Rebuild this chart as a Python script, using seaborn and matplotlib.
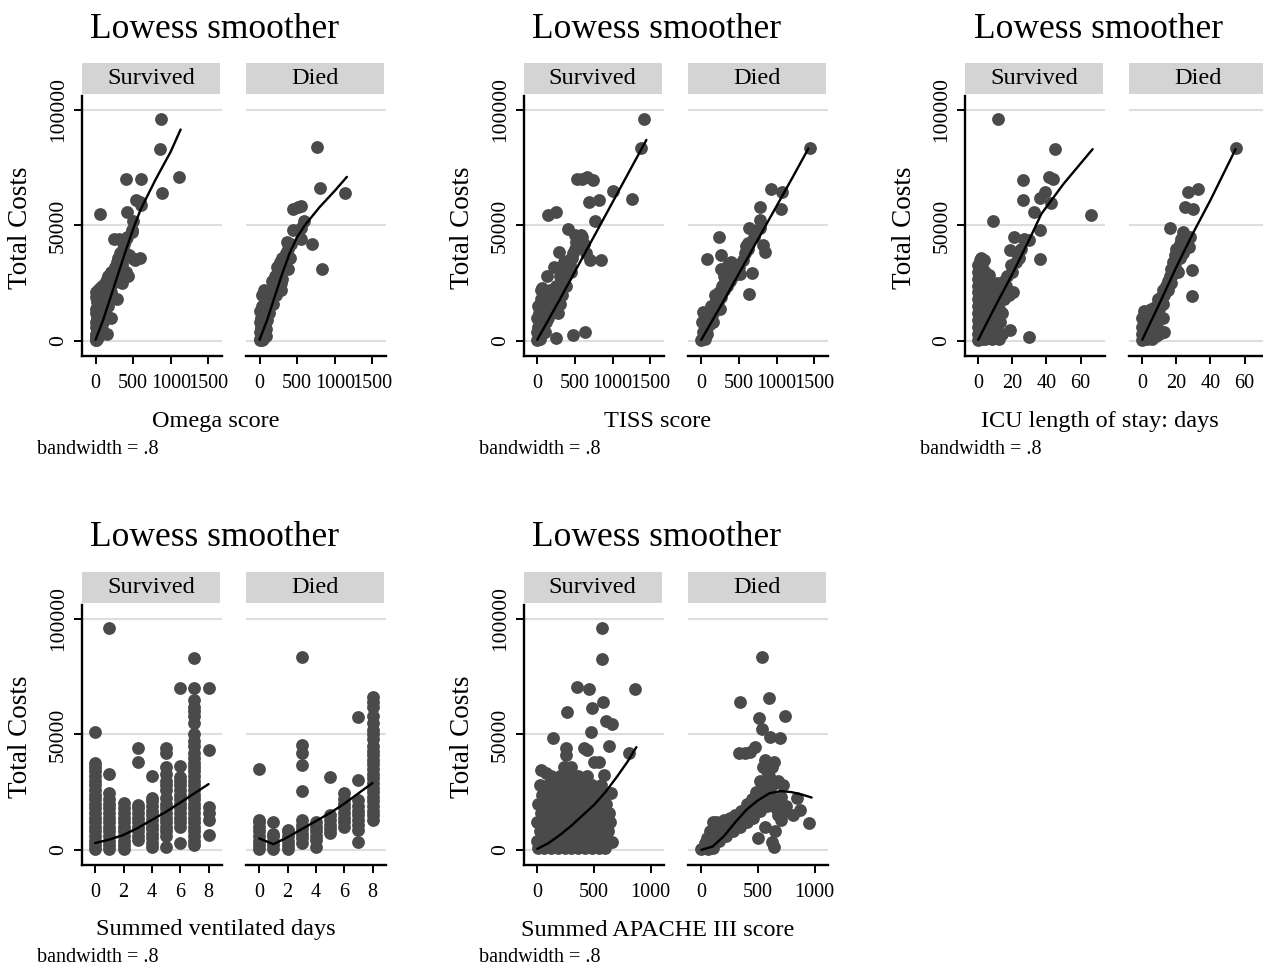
import numpy as np
import matplotlib
matplotlib.use("Agg")
import matplotlib.pyplot as plt
import seaborn as sns

# ==========================================
# DATOS (costes en miles)
# ==========================================
# Omega score
omega_surv = [(0, 0.5), (5, 1), (10, 2), (20, 1), (30, 3), (15, 5), (40, 2), (50, 4), (0, 3), (5, 6),
              (10, 8), (20, 10), (0, 12), (10, 14), (30, 7), (60, 6), (70, 9), (80, 12), (90, 5), (100, 8),
              (50, 12), (40, 15), (20, 17), (10, 19), (0, 21), (30, 22), (60, 23), (90, 24), (100, 14),
              (110, 11), (120, 16), (130, 13), (140, 18), (150, 20), (160, 15), (170, 22), (180, 19),
              (120, 25), (150, 27), (190, 24), (200, 26), (210, 21), (220, 28), (230, 25), (240, 30),
              (250, 27), (260, 32), (270, 29), (280, 34), (290, 31), (300, 36), (310, 33), (320, 38),
              (340, 36), (360, 40), (380, 42), (400, 44), (420, 45), (250, 44), (310, 44), (440, 37),
              (480, 36), (527, 35), (594, 36), (437, 28), (400, 30), (350, 33), (480, 47), (504, 52),
              (482, 48), (540, 61), (585, 60), (600, 59), (420, 56), (58, 55), (406, 70), (598, 70),
              (888, 64), (1112, 71), (857, 83), (875, 96), (2, 0.5), (25, 4), (70, 3), (35, 10), (80, 17),
              (110, 20), (130, 22), (200, 30), (170, 28), (147, 3), (200, 10), (280, 18), (350, 25)]
omega_died = [(0, 0.5), (10, 1), (20, 2), (30, 0.5), (50, 1), (5, 4), (15, 6), (40, 4), (60, 3), (80, 2),
              (0, 8), (20, 10), (40, 8), (70, 7), (90, 5), (100, 9), (10, 13), (30, 15), (60, 12), (80, 14),
              (120, 12), (140, 15), (160, 18), (120, 19), (90, 20), (30, 20), (60, 22), (140, 22), (180, 20),
              (200, 24), (170, 26), (210, 28), (240, 26), (260, 30), (280, 22), (300, 27), (230, 32),
              (270, 34), (300, 36), (320, 32), (350, 38), (380, 40), (400, 36), (420, 42), (360, 43),
              (290, 25), (445, 48), (511, 58), (556, 58.5), (587, 52), (551, 49), (556, 44), (445, 57),
              (693, 42), (825, 31), (763, 84), (803, 66), (1138, 64), (380, 31), (180, 16), (220, 20)]
omega_lw_surv_x = [0, 100, 200, 300, 400, 500, 600, 800, 1000, 1130]
omega_lw_surv_y = [0.5, 9, 19, 29, 39, 48.5, 57, 70, 82, 91.5]
omega_lw_died_x = [0, 100, 200, 300, 400, 500, 600, 800, 1000, 1160]
omega_lw_died_y = [0.5, 9, 19, 29, 38, 45, 50, 58, 65, 71]

# TISS score
tiss_surv = [(0, 0.5), (10, 1), (20, 2), (40, 1), (60, 3), (0, 4), (10, 6), (30, 8), (0, 10), (20, 12),
             (40, 14), (10, 15), (60, 10), (80, 6), (100, 4), (120, 8), (100, 12), (140, 10), (160, 12),
             (80, 15), (50, 18), (150, 16), (180, 14), (200, 16), (200, 20), (220, 13), (240, 18),
             (260, 20), (170, 22), (250, 24), (280, 22), (300, 21), (320, 25), (300, 28), (340, 26),
             (360, 30), (380, 28), (400, 32), (350, 34), (420, 35), (440, 33), (460, 36), (480, 38),
             (500, 40), (520, 43), (540, 41), (560, 44), (580, 46), (600, 45), (650, 38), (700, 35),
             (620, 42), (530, 44), (500, 46), (44, 22), (60, 23), (132, 28), (221, 32), (295, 38.6),
             (406, 48.3), (141, 54.5), (243, 55.8), (529, 70), (596, 70.3), (662, 71), (741, 69.6),
             (692, 60), (820, 61), (772, 52), (1006, 64.8), (1257, 61.5), (1380, 83.3), (1416, 96),
             (847, 35), (243, 1.2), (477, 2.6), (631, 3.7), (300, 16), (280, 12), (330, 20), (380, 24),
             (450, 30)]
tiss_died = [(0, 0.5), (10, 1), (30, 2), (50, 1), (20, 4), (60, 5), (80, 3), (100, 7), (10, 8), (40, 9),
             (80, 10), (120, 9), (150, 12), (100, 13), (22, 12.7), (60, 12), (130, 15), (170, 14),
             (200, 18), (180, 20), (220, 17), (240, 21), (260, 19), (280, 24), (300, 22), (320, 26),
             (340, 24), (360, 28), (380, 26), (400, 30), (420, 28), (440, 31), (460, 33), (480, 30),
             (500, 32), (520, 29), (360, 33), (400, 34), (300, 28), (80, 35.3), (236, 44.8), (258, 37.2),
             (267, 31), (550, 35), (580, 38), (600, 41), (623, 42.2), (623, 40), (636, 48.7), (668, 29.2),
             (636, 20.3), (783, 58), (783, 52.3), (783, 48.7), (823, 41.5), (845, 38.6), (926, 65.7),
             (1068, 64.3), (1059, 57.1), (1442, 83.6), (700, 45), (160, 8), (250, 14)]
tiss_lw_surv_x = [0, 300, 600, 900, 1200, 1450]
tiss_lw_surv_y = [0.5, 18, 36, 54, 72, 87]
tiss_lw_died_x = [0, 300, 600, 900, 1200, 1424]
tiss_lw_died_y = [0.5, 17.5, 35, 52.5, 70, 83.3]

# ICU length of stay
icu_surv = [(0, 0.5), (0, 3), (0, 6), (0, 9), (0, 12), (0, 15), (0, 18), (0, 21), (0, 24), (0, 27),
            (0, 30), (0, 33), (1, 35), (1.4, 36), (3.3, 35), (1, 2), (1, 8), (1, 14), (1, 20), (1, 26),
            (2, 1), (2, 5), (2, 11), (2, 17), (2, 23), (3, 3), (3, 9), (3, 15), (3, 21), (3, 27), (4, 1),
            (4, 7), (4, 13), (4, 19), (5, 3), (5, 10), (5, 17), (5, 24), (6, 2), (6, 8), (6, 15),
            (6.2, 28.5), (7, 5), (7, 12), (7, 20), (8, 1), (8, 9), (8, 16), (9, 4), (9, 13), (9, 22),
            (10, 2), (10, 10), (10, 18), (11, 6), (11, 25), (12, 1), (12, 14), (13, 8), (13, 22), (14, 12),
            (14, 3), (15, 18), (15, 26), (16, 24), (17, 28), (18, 20), (18.6, 4.8), (20.3, 21.3), (19, 33),
            (18.6, 39.3), (21, 45), (20, 30), (22, 34), (23, 38), (24, 36), (25, 40), (27, 44), (30, 43.7),
            (30, 1.9), (8.6, 51.9), (11.5, 96), (26.4, 69.6), (26.4, 61), (32.8, 55.8), (36.1, 62),
            (36.1, 48), (36.1, 35.3), (38.9, 64.6), (41.4, 71), (43.8, 70), (42.6, 59.8), (45, 83),
            (65.8, 54.5), (4, 30), (2, 32), (6, 22)]
icu_died = [(0, 0.5), (0, 3), (0, 6), (0, 10), (1, 13), (1, 2), (2, 4), (2, 8), (3, 1), (3, 6), (3, 12),
            (4, 3), (4, 9), (5, 5), (5, 14), (6, 1), (6, 10), (7, 4), (7, 12), (8, 2), (8, 15), (9, 5),
            (9, 18), (10, 3), (10, 14), (11, 4), (11, 19), (12, 16), (12, 22), (13, 4), (13, 20), (14, 24),
            (15, 22), (15, 26), (16, 28), (16, 49), (17, 25), (17, 31), (18, 29), (18, 34), (19, 32),
            (19, 37), (20, 35), (20, 40), (21, 38), (21, 30), (22, 42), (22, 36), (23, 44), (23, 40),
            (24, 47), (24, 38), (25.2, 58), (26.6, 64.3), (27.2, 40.8), (28, 45), (29.1, 30.7),
            (29.1, 19.6), (30, 57.3), (32.5, 65.7), (54.7, 83.6), (7, 8), (12, 10)]
icu_lw_surv_x = [0, 10, 20, 30, 37, 50, 67]
icu_lw_surv_y = [0.5, 15, 29, 44, 55, 68, 83]
icu_lw_died_x = [0, 10, 20, 30, 40, 54.7]
icu_lw_died_y = [0.5, 16, 32, 47, 61, 83]

# Summed ventilated days
vent_surv = [(0, 0.5), (0, 2), (0, 4), (0, 6), (0, 8), (0, 10), (0, 12), (0, 14), (0, 16), (0, 18),
             (0, 20), (0, 22), (0, 24), (0, 26), (0, 28), (0, 30), (0, 32), (0, 34), (0, 36), (0, 37.5),
             (0, 51.2),
             (1, 0.5), (1, 2), (1, 4), (1, 6), (1, 8), (1, 10), (1, 12), (1, 14), (1, 16), (1, 18), (1, 20),
             (1, 22), (1, 24.5), (1, 32.9), (1, 96),
             (2, 0.5), (2, 2), (2, 4), (2, 6), (2, 8), (2, 10), (2, 12), (2, 14), (2, 16), (2, 18), (2, 20.5),
             (3, 4.3), (3, 6), (3, 8), (3, 10), (3, 12), (3, 14), (3, 16), (3, 18), (3, 19.5), (3, 38.2),
             (3, 44),
             (4, 1.4), (4, 3), (4, 5), (4, 7), (4, 9), (4, 11), (4, 13), (4, 15), (4, 17), (4, 19), (4, 21),
             (4, 22.4), (4, 32),
             (5, 1.4), (5, 6), (5, 8), (5, 10), (5, 12), (5, 14), (5, 16), (5, 18), (5, 20), (5, 22.4),
             (5, 26), (5, 28), (5, 30), (5, 33), (5, 36), (5, 41.8), (5, 44),
             (6, 3), (6, 10), (6, 12), (6, 14), (6, 16), (6, 18), (6, 20), (6, 22), (6, 24), (6, 26),
             (6, 28), (6, 30), (6, 31.7), (6, 36.4), (6, 70),
             (7, 2.2), (7, 4), (7, 6), (7, 8), (7, 10), (7, 12), (7, 14), (7, 16), (7, 18), (7, 20), (7, 22),
             (7, 24), (7, 26), (7, 28), (7, 30), (7, 32), (7, 34), (7, 36), (7, 37.5), (7, 40), (7, 42),
             (7, 45), (7, 47), (7, 50), (7, 55), (7, 58), (7, 60), (7, 62), (7, 65), (7, 70), (7, 83),
             (8, 6.5), (8, 13), (8, 15.9), (8, 18.7), (8, 43.3), (8, 70.3)]
vent_died = [(0, 0.5), (0, 2), (0, 4), (0, 6), (0, 8), (0, 10), (0, 12), (0, 13), (0, 34.9),
             (1, 0.5), (1, 2), (1, 4), (1, 6), (1, 7), (1, 12.3),
             (2, 0.5), (2, 2), (2, 4), (2, 6), (2, 8), (2, 8.7),
             (3, 3), (3, 5), (3, 7), (3, 9), (3, 11), (3, 13), (3, 25.7), (3, 36.8), (3, 41.8), (3, 45.5),
             (3, 83.3),
             (4, 1.4), (4, 4.3), (4, 6), (4, 8), (4, 10), (4, 12.3),
             (5, 7.2), (5, 9), (5, 11), (5, 13), (5, 15), (5, 31.7),
             (6, 10), (6, 12), (6, 14), (6, 16), (6, 18), (6, 20), (6, 22), (6, 24.5),
             (7, 3.6), (7, 8.7), (7, 11), (7, 13), (7, 15), (7, 17), (7, 19), (7, 21.6), (7, 30.3), (7, 57.7),
             (8, 13), (8, 15), (8, 17), (8, 19), (8, 21), (8, 23), (8, 25), (8, 27), (8, 29), (8, 31),
             (8, 33), (8, 35), (8, 37), (8, 39), (8, 41), (8, 43), (8, 45), (8, 48), (8, 50), (8, 52),
             (8, 55), (8, 58), (8, 62), (8, 64), (8, 66)]
vent_lw_surv_x = [0, 1, 2, 3, 4, 5, 6, 7, 8]
vent_lw_surv_y = [3, 4.5, 6.5, 9.5, 13, 16.5, 20.5, 24.5, 28.5]
vent_lw_died_x = [0, 1, 2, 3, 4, 5, 6, 7, 8]
vent_lw_died_y = [5, 2.5, 5.5, 9, 12.5, 16, 20, 24.5, 29]

# Summed APACHE III score
apache_surv = [(10, 1), (60, 1), (120, 1), (180, 1), (240, 1), (300, 1), (360, 1), (420, 1), (480, 1),
               (540, 1), (600, 1),
               (0, 4), (50, 4), (100, 4), (160, 4), (220, 4), (280, 4), (340, 4), (400, 4), (460, 4),
               (520, 4), (580, 4), (662, 3.6),
               (20, 8), (80, 8), (140, 8), (200, 8), (260, 8), (320, 8), (380, 8), (440, 8), (500, 8),
               (560, 8), (620, 8),
               (0, 12), (60, 12), (120, 12), (180, 12), (240, 12), (300, 12), (360, 12), (420, 12),
               (480, 12), (540, 12), (600, 12), (640, 12),
               (30, 16), (90, 16), (150, 16), (210, 16), (270, 16), (330, 16), (390, 16), (450, 16),
               (510, 16), (570, 16), (630, 16),
               (10, 20), (70, 20), (130, 20), (190, 20), (250, 20), (310, 20), (370, 20), (430, 20),
               (490, 20), (550, 20), (610, 20),
               (40, 24), (100, 24), (160, 24), (220, 24), (280, 24), (340, 24), (400, 24), (460, 24),
               (520, 24), (580, 24), (647, 24.5),
               (20, 28), (90, 28), (170, 28), (250, 28), (330, 28), (410, 28), (480, 28), (560, 28),
               (120, 32), (200, 32), (280, 32), (360, 32), (440, 32), (588, 32.5),
               (235, 36), (294, 36), (500, 38), (544, 38),
               (29, 34.6), (74, 33.2), (141, 48.3), (250, 44), (250, 41.1), (412, 44), (441, 43.3),
               (809, 41.8), (632, 45), (471, 51.2), (609, 55.6), (662, 54.4), (265, 59.5), (485, 61.3),
               (579, 64.2), (347, 70.7), (456, 69.7), (862, 69.6), (574, 82.7), (568, 96)]
apache_died = [(0, 0.5), (20, 1), (40, 2), (60, 0.5), (80, 3), (100, 1), (50, 5), (104, 12.3), (130, 12),
               (150, 11), (120, 5), (140, 8), (160, 4), (180, 7), (200, 10), (220, 6), (240, 9), (260, 12),
               (280, 8), (300, 11), (320, 14), (340, 10), (360, 13), (380, 17), (400, 12), (420, 16),
               (440, 19), (460, 14), (480, 18), (500, 22), (520, 17), (540, 21), (560, 25), (580, 19),
               (600, 24), (620, 28), (640, 22), (660, 18), (680, 15), (700, 13), (720, 16), (560, 30),
               (580, 34), (600, 32), (620, 36), (640, 38), (519, 30), (540, 36), (560, 39), (480, 25),
               (450, 22), (400, 20), (350, 17), (300, 15), (250, 14), (200, 13), (175, 12), (80, 8),
               (30, 3), (638, 1.4), (623, 3.6), (650, 8), (700, 23), (720, 28), (680, 30), (750, 19),
               (846, 22.4), (875, 17.3), (810, 15), (950, 11.8), (332, 41.8), (386, 41.8), (430, 42.6),
               (475, 44.7), (608, 49.1), (697, 48.6), (537, 52.2), (513, 57), (736, 58), (341, 64.2),
               (599, 65.7), (537, 83.3), (500, 5), (560, 10)]
apache_lw_surv_x = [0, 100, 200, 300, 400, 500, 600, 700, 800, 874]
apache_lw_surv_y = [0.5, 3, 6.5, 10.5, 15, 19.5, 25, 31.5, 38.5, 44.5]
apache_lw_died_x = [0, 100, 200, 300, 400, 500, 600, 700, 800, 900, 973]
apache_lw_died_y = [0, 1.5, 6, 12, 17.5, 21.5, 24.5, 25.5, 25, 23.8, 22.7]

group_labels = ["Survived", "Died"]
x_labels = ["Omega score", "TISS score", "ICU length of stay: days",
            "Summed ventilated days", "Summed APACHE III score"]

# ==========================================
# ESTILO
# ==========================================
W, H = 1263, 966
POINT_COLOR = "#4a4a4a"
STRIP_COLOR = "#d4d4d4"
GRID_COLOR = "#dedede"
XTICK_FS = 14.5
YTICK_FS = 15.5

sns.set_style("white")
plt.rcParams["font.family"] = ["Liberation Serif", "DejaVu Serif"]
for key in ["text.color", "axes.labelcolor", "xtick.color", "ytick.color"]:
    plt.rcParams[key] = "black"

fig = plt.figure(figsize=(W / 100, H / 100), dpi=100)


def px_axes(x, y, w, h):
    return fig.add_axes([x / W, 1 - (y + h) / H, w / W, h / H])


def draw_panel(ox, oy, xlabel, xlim, xticks, surv, died, lw_surv, lw_died):
    fig.text((ox + 133) / W, 1 - (oy - 67) / H, "Lowess smoother", ha="center", va="center", fontsize=25.5)
    fig.text((ox - 61) / W, 1 - (oy + 132) / H, "Total Costs", ha="center", va="center",
             rotation=90, fontsize=19.5)
    fig.text((ox + 134) / W, 1 - (oy + 325) / H, xlabel, ha="center", va="center", fontsize=17.5)
    fig.text((ox - 45) / W, 1 - (oy + 353) / H, "bandwidth = .8", ha="left", va="center", fontsize=14.5)

    for k, (pts, lw, lab) in enumerate([(surv, lw_surv, group_labels[0]), (died, lw_died, group_labels[1])]):
        x0 = ox + k * 164
        # franja superior
        st = px_axes(x0, oy - 33, 138, 31)
        st.set_facecolor(STRIP_COLOR)
        st.set_xticks([])
        st.set_yticks([])
        for s in st.spines.values():
            s.set_visible(False)
        st.text(0.5, 0.5, lab, ha="center", va="center", fontsize=17.5, transform=st.transAxes)

        ax = px_axes(x0, oy, 140, 260)
        xs = [p[0] for p in pts]
        ys = [p[1] * 1000 for p in pts]
        sns.scatterplot(x=xs, y=ys, ax=ax, color=POINT_COLOR, s=85, linewidth=0, legend=False, zorder=3)
        sns.lineplot(x=lw[0], y=np.array(lw[1]) * 1000, ax=ax, color="black", linewidth=1.7,
                     sort=False, estimator=None, zorder=4)
        ax.set_xlim(*xlim)
        ax.set_ylim(-6500, 106000)
        ax.set_xticks(xticks)
        ax.set_xticklabels([str(t) for t in xticks], fontsize=XTICK_FS)
        ax.set_yticks([0, 50000, 100000])
        ax.yaxis.grid(True, color=GRID_COLOR, linewidth=1.5)
        ax.xaxis.grid(False)
        ax.set_axisbelow(True)
        ax.set_xlabel("")
        ax.set_ylabel("")
        ax.spines["top"].set_visible(False)
        ax.spines["right"].set_visible(False)
        ax.spines["bottom"].set_linewidth(1.7)
        ax.spines["bottom"].set_color("black")
        ax.tick_params(axis="x", length=6, width=1.4, direction="out", pad=7, bottom=True)
        if k == 0:
            ax.spines["left"].set_linewidth(1.7)
            ax.spines["left"].set_color("black")
            ax.set_yticklabels(["0", "50000", "100000"], rotation=90, va="center", fontsize=YTICK_FS)
            ax.tick_params(axis="y", length=6, width=1.4, direction="out", pad=4, left=True)
        else:
            ax.spines["left"].set_visible(False)
            ax.tick_params(axis="y", left=False, labelleft=False)


col_dx = 441.7
row_dy = 509
ox0, oy0 = 82, 96

draw_panel(ox0, oy0, x_labels[0], (-180, 1680), [0, 500, 1000, 1500], omega_surv, omega_died,
           (omega_lw_surv_x, omega_lw_surv_y), (omega_lw_died_x, omega_lw_died_y))
draw_panel(ox0 + col_dx, oy0, x_labels[1], (-180, 1680), [0, 500, 1000, 1500], tiss_surv, tiss_died,
           (tiss_lw_surv_x, tiss_lw_surv_y), (tiss_lw_died_x, tiss_lw_died_y))
draw_panel(ox0 + 2 * col_dx, oy0, x_labels[2], (-7.5, 74.5), [0, 20, 40, 60], icu_surv, icu_died,
           (icu_lw_surv_x, icu_lw_surv_y), (icu_lw_died_x, icu_lw_died_y))
draw_panel(ox0, oy0 + row_dy, x_labels[3], (-0.93, 8.95), [0, 2, 4, 6, 8], vent_surv, vent_died,
           (vent_lw_surv_x, vent_lw_surv_y), (vent_lw_died_x, vent_lw_died_y))
draw_panel(ox0 + col_dx, oy0 + row_dy, x_labels[4], (-120, 1115), [0, 500, 1000], apache_surv, apache_died,
           (apache_lw_surv_x, apache_lw_surv_y), (apache_lw_died_x, apache_lw_died_y))

fig.savefig("out.png", dpi=100, facecolor="white")
